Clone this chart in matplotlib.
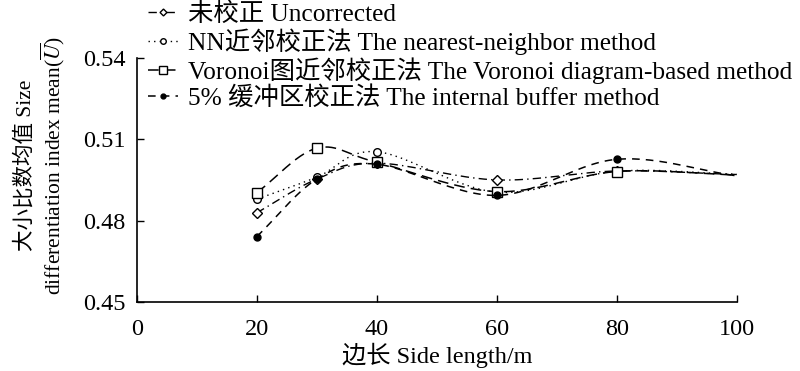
import numpy as np
import matplotlib.pyplot as plt

plt.rcParams['font.family'] = ['Liberation Serif', 'Noto Sans CJK SC']
plt.rcParams['mathtext.fontset'] = 'stix'

# data
side = [20, 30, 40, 60, 80, 100]
uncorrected = [0.4829, 0.4953, 0.5012, 0.4950, 0.4983, 0.4970]
nearest = [0.4879, 0.4960, 0.5054, 0.4905, 0.4982, 0.4971]
voronoi = [0.4903, 0.5067, 0.5015, 0.4907, 0.4981, 0.4968]
buffer5 = [0.4741, 0.4953, 0.5008, 0.4893, 0.5026, 0.4965]

labels = ['未校正 Uncorrected',
          'NN近邻校正法 The nearest-neighbor method',
          'Voronoi图近邻校正法 The Voronoi diagram-based method',
          '5% 缓冲区校正法 The internal buffer method']


def smooth(x, y, n=30):
    # Catmull-Rom style curve through the points (like a spreadsheet "smoothed line")
    x = np.asarray(x, float)
    y = np.asarray(y, float)
    px = np.concatenate([[2 * x[0] - x[1]], x, [2 * x[-1] - x[-2]]])
    py = np.concatenate([[2 * y[0] - y[1]], y, [2 * y[-1] - y[-2]]])
    xs, ys = [], []
    t = np.linspace(0, 1, n)
    for i in range(1, len(px) - 2):
        p0, p1, p2, p3 = [np.array([px[k], py[k]]) for k in range(i - 1, i + 3)]
        pts = 0.5 * ((2 * p1)[:, None] + (-p0 + p2)[:, None] * t
                     + (2 * p0 - 5 * p1 + 4 * p2 - p3)[:, None] * t ** 2
                     + (-p0 + 3 * p1 - 3 * p2 + p3)[:, None] * t ** 3)
        xs.extend(pts[0])
        ys.extend(pts[1])
    return np.array(xs), np.array(ys)


fig = plt.figure(figsize=(8, 3.71), dpi=100)
ax = fig.add_axes([0.171, 0.186, 0.75, 0.658])

styles = [
    dict(marker='D', ms=5, mfc='white', ls=(0, (6, 3, 1, 3)), lw=1.0),
    dict(marker='o', ms=5.5, mfc='white', ls=(0, (1, 3)), lw=1.0),
    dict(marker='s', ms=7.5, mfc='white', ls=(0, (7, 4)), lw=1.1),
    dict(marker='o', ms=5, mfc='black', ls=(0, (5, 4)), lw=1.1),
]
series = [uncorrected, nearest, voronoi, buffer5]

handles = []
for ys, st, lab in zip(series, styles, labels):
    sx, sy = smooth(side, ys)
    ax.plot(sx, sy, color='black', ls=st['ls'], lw=st['lw'])
    ax.plot(side[:-1], ys[:-1], ls='none', marker=st['marker'], ms=st['ms'],
            mfc=st['mfc'], mec='black', mew=1.0)
    h, = ax.plot([], [], color='black', ls=st['ls'], lw=st['lw'], marker=st['marker'],
                 ms=st['ms'] - 1.5, mfc=st['mfc'], mec='black', label=lab)
    handles.append(h)

ax.set_xlim(0, 100)
ax.set_ylim(0.45, 0.54)
ax.set_xticks([0, 20, 40, 60, 80, 100])
ax.set_yticks([0.45, 0.48, 0.51, 0.54])
ax.set_yticklabels(['0.45', '0.48', '0.51', '0.54'])
ax.tick_params(direction='in', length=5, labelsize=17.5, width=1)
ax.tick_params(axis='x', pad=12)
ax.tick_params(axis='y', pad=8)
for s in ['top', 'right']:
    ax.spines[s].set_visible(False)
for s in ['left', 'bottom']:
    ax.spines[s].set_linewidth(1.2)

ax.set_xlabel('边长 Side length/m', fontsize=17.5, labelpad=2)
ax.set_ylabel('大小比数均值 Size\ndifferentiation index mean($\\overline{U}$)',
              fontsize=15.5, linespacing=1.15)
ax.yaxis.set_label_coords(-0.116, 0.56)

fig.legend(handles=handles, loc='upper left', bbox_to_anchor=(0.172, 1.022),
           frameon=False, fontsize=18.3, handlelength=1.2, handletextpad=0.4,
           labelspacing=0.1, borderaxespad=0)

fig.savefig('out.png', dpi=100)
